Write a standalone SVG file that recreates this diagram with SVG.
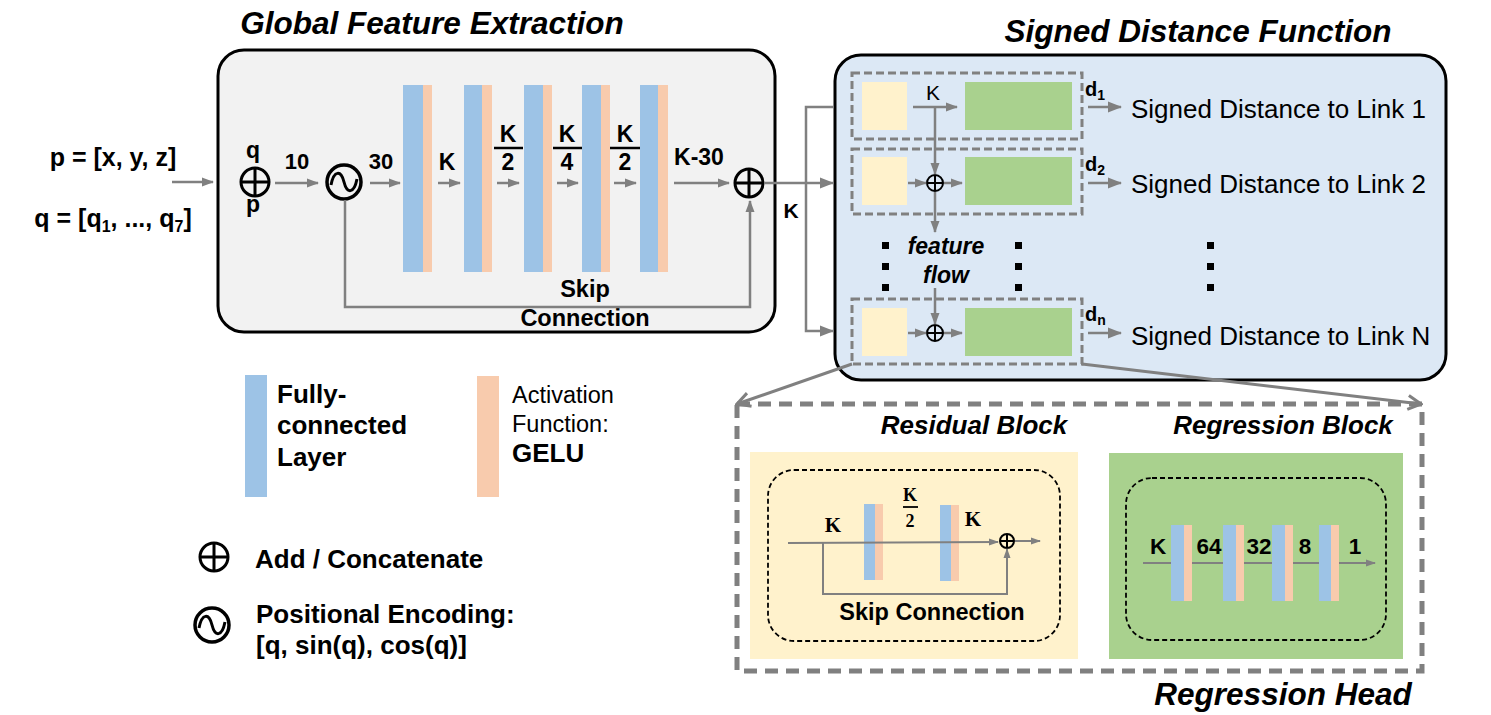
<svg xmlns="http://www.w3.org/2000/svg" width="1491" height="715" viewBox="0 0 1491 715">
<defs>
<style>
.b{font-family:"Liberation Sans",Arial,sans-serif;font-weight:bold;fill:#000}
.r{font-family:"Liberation Sans",Arial,sans-serif;fill:#000}
.bi{font-family:"Liberation Sans",Arial,sans-serif;font-weight:bold;font-style:italic;fill:#000}
.sf{font-family:"Liberation Serif","Times New Roman",serif;font-weight:bold;fill:#000}
.fc{fill:#9dc3e6}
.ac{fill:#f8cbad}
.ln{fill:none;stroke:#808080;stroke-width:2.5}
.lnt{fill:none;stroke:#808080;stroke-width:2}
.ds{fill:none;stroke:#808080;stroke-width:3;stroke-dasharray:8 4}
.dot{fill:#000}
</style>
<marker id="ah" markerUnits="userSpaceOnUse" markerWidth="12" markerHeight="10" refX="11" refY="5" orient="auto"><path d="M0,0.5 L12,5 L0,9.5 z" fill="#808080"/></marker>
<marker id="ahs" markerUnits="userSpaceOnUse" markerWidth="10" markerHeight="8" refX="9" refY="4" orient="auto"><path d="M0,0.5 L10,4 L0,7.5 z" fill="#808080"/></marker>
<marker id="ahl" markerUnits="userSpaceOnUse" markerWidth="14" markerHeight="12" refX="13" refY="6" orient="auto"><path d="M0,0.5 L14,6 L0,11.5 z" fill="#808080"/></marker>
<marker id="aho" markerUnits="userSpaceOnUse" markerWidth="18" markerHeight="18" refX="16" refY="9" orient="auto"><path d="M3,2 L16,9 L3,16" fill="none" stroke="#808080" stroke-width="3"/></marker>
<g id="oplus"><circle r="14" fill="none" stroke="#000" stroke-width="3"/><path d="M-14,0 H14 M0,-14 V14" stroke="#000" stroke-width="3"/></g>
<g id="oplusS"><circle r="8" fill="none" stroke="#000" stroke-width="2"/><path d="M-8,0 H8 M0,-8 V8" stroke="#000" stroke-width="2"/></g>
<g id="pe"><circle r="17" fill="none" stroke="#000" stroke-width="3.5"/><path d="M-13,3 C-10,-12 -3,-12 0,0 C3,12 10,12 13,-3" fill="none" stroke="#000" stroke-width="3"/></g>
</defs>

<!-- Titles -->
<text class="bi" x="432" y="34" font-size="31.5" text-anchor="middle">Global Feature Extraction</text>
<text class="bi" x="1198" y="42" font-size="31.5" text-anchor="middle">Signed Distance Function</text>
<text class="bi" x="1283" y="705" font-size="31.5" text-anchor="middle">Regression Head</text>

<!-- Inputs -->
<g id="inputs">
<text class="b" x="113" y="166" font-size="25" text-anchor="middle">p = [x, y, z]</text>
<text class="b" x="113" y="227" font-size="25" text-anchor="middle">q = [q<tspan font-size="16" dy="5">1</tspan><tspan dy="-5">, ..., q</tspan><tspan font-size="16" dy="5">7</tspan><tspan dy="-5">]</tspan></text>
</g>

<!-- Global feature extraction -->
<g id="gfe">
<rect x="218" y="50" width="557" height="282" rx="26" fill="#f2f2f2" stroke="#000" stroke-width="3"/>
<use href="#oplus" x="255" y="182"/>
<text class="b" x="253" y="158" font-size="23" text-anchor="middle">q</text>
<text class="b" x="253" y="212" font-size="23" text-anchor="middle">p</text>
<text class="b" x="297" y="169" font-size="22" text-anchor="middle">10</text>
<use href="#pe" x="344" y="182"/>
<text class="b" x="381" y="169" font-size="22" text-anchor="middle">30</text>
<rect class="fc" x="403" y="85" width="20" height="187"/><rect class="ac" x="423" y="85" width="9" height="187"/>
<rect class="fc" x="464" y="85" width="18" height="187"/><rect class="ac" x="482" y="85" width="10" height="187"/>
<rect class="fc" x="524" y="85" width="19" height="187"/><rect class="ac" x="543" y="85" width="9" height="187"/>
<rect class="fc" x="582" y="85" width="19" height="187"/><rect class="ac" x="601" y="85" width="9" height="187"/>
<rect class="fc" x="640" y="85" width="18" height="187"/><rect class="ac" x="658" y="85" width="10" height="187"/>
<text class="b" x="447" y="170" font-size="23" text-anchor="middle">K</text>
<text class="b" x="508" y="142" font-size="23" text-anchor="middle">K</text>
<line x1="494" y1="148" x2="523" y2="148" stroke="#000" stroke-width="2.5"/>
<text class="b" x="508" y="170" font-size="23" text-anchor="middle">2</text>
<text class="b" x="567" y="142" font-size="23" text-anchor="middle">K</text>
<line x1="553" y1="148" x2="582" y2="148" stroke="#000" stroke-width="2.5"/>
<text class="b" x="567" y="170" font-size="23" text-anchor="middle">4</text>
<text class="b" x="625" y="142" font-size="23" text-anchor="middle">K</text>
<line x1="610" y1="148" x2="640" y2="148" stroke="#000" stroke-width="2.5"/>
<text class="b" x="625" y="170" font-size="23" text-anchor="middle">2</text>
<text class="b" x="699" y="165" font-size="23" text-anchor="middle">K-30</text>
<use href="#oplus" x="749" y="183"/>
<text class="b" x="585" y="297" font-size="23.5" text-anchor="middle">Skip</text>
<text class="b" x="585" y="326" font-size="23.5" text-anchor="middle">Connection</text>
</g>

<!-- Signed distance function -->
<g id="sdf">
<rect x="835" y="55" width="611" height="325" rx="26" fill="#dce8f5" stroke="#000" stroke-width="3"/>
<rect class="ds" x="852" y="73" width="230" height="66"/>
<rect class="ds" x="852" y="149" width="230" height="65"/>
<rect class="ds" x="852" y="299" width="230" height="65"/>
<rect x="862" y="82" width="45" height="48" fill="#fff2cc"/><rect x="965" y="82" width="107" height="48" fill="#a9d18e"/>
<rect x="862" y="157" width="45" height="48" fill="#fff2cc"/><rect x="965" y="157" width="107" height="48" fill="#a9d18e"/>
<rect x="862" y="308" width="45" height="48" fill="#fff2cc"/><rect x="965" y="308" width="107" height="48" fill="#a9d18e"/>
<text class="r" x="933" y="100" font-size="21" text-anchor="middle">K</text>
<use href="#oplusS" x="935" y="183"/>
<use href="#oplusS" x="935" y="333"/>
<text class="bi" x="946" y="254" font-size="23" text-anchor="middle">feature</text>
<text class="bi" x="946" y="283" font-size="23" text-anchor="middle">flow</text>
<rect class="dot" x="882" y="242" width="7" height="7"/><rect class="dot" x="882" y="263" width="7" height="7"/><rect class="dot" x="882" y="284" width="7" height="7"/>
<rect class="dot" x="1015" y="242" width="7" height="7"/><rect class="dot" x="1015" y="263" width="7" height="7"/><rect class="dot" x="1015" y="284" width="7" height="7"/>
<rect class="dot" x="1207" y="242" width="7" height="7"/><rect class="dot" x="1207" y="263" width="7" height="7"/><rect class="dot" x="1207" y="284" width="7" height="7"/>
<text class="b" x="1085" y="96" font-size="20">d<tspan font-size="14" dy="4">1</tspan></text>
<text class="b" x="1085" y="171" font-size="20">d<tspan font-size="14" dy="4">2</tspan></text>
<text class="b" x="1085" y="321" font-size="20">d<tspan font-size="14" dy="4">n</tspan></text>
<text class="r" x="1131" y="118" font-size="26">Signed Distance to Link 1</text>
<text class="r" x="1131" y="193" font-size="26">Signed Distance to Link 2</text>
<text class="r" x="1131" y="345" font-size="26">Signed Distance to Link N</text>
</g>

<!-- Regression head -->
<g id="regression-head">
<rect x="737" y="404" width="685" height="267" fill="none" stroke="#808080" stroke-width="5" stroke-dasharray="13 8"/>
<text class="bi" x="974" y="434" font-size="26" text-anchor="middle">Residual Block</text>
<text class="bi" x="1283" y="434" font-size="26" text-anchor="middle">Regression Block</text>
</g>

<g id="residual-block">
<rect x="750" y="452" width="328" height="207" fill="#fff2cc"/>
<rect x="768" y="470" width="292" height="171" rx="26" fill="none" stroke="#000" stroke-width="1.8" stroke-dasharray="5 3"/>
<rect class="fc" x="864" y="504" width="11" height="76"/><rect class="ac" x="875" y="504" width="8" height="76"/>
<rect class="fc" x="940" y="505" width="11" height="76"/><rect class="ac" x="951" y="505" width="8" height="76"/>
<text class="sf" x="833" y="532" font-size="21" text-anchor="middle">K</text>
<text class="sf" x="910" y="501" font-size="18" text-anchor="middle">K</text>
<line x1="903" y1="507" x2="918" y2="507" stroke="#000" stroke-width="1.8"/>
<text class="sf" x="910" y="527" font-size="18" text-anchor="middle">2</text>
<text class="sf" x="973" y="526" font-size="21" text-anchor="middle">K</text>
<g transform="translate(1007,541)"><circle r="7" fill="none" stroke="#000" stroke-width="2"/><path d="M-7,0 H7 M0,-7 V7" stroke="#000" stroke-width="2"/></g>
<text class="b" x="932" y="620" font-size="23.5" text-anchor="middle">Skip Connection</text>
</g>

<g id="regression-block">
<rect x="1109" y="453" width="294" height="206" fill="#a9d18e"/>
<rect x="1126" y="478" width="260" height="162" rx="26" fill="none" stroke="#000" stroke-width="1.8" stroke-dasharray="5 3"/>
<line x1="1143" y1="563" x2="1375" y2="563" class="lnt" marker-end="url(#ahs)"/>
<rect class="fc" x="1171" y="525" width="13" height="76"/><rect class="ac" x="1184" y="525" width="8" height="76"/>
<rect class="fc" x="1223" y="525" width="13" height="76"/><rect class="ac" x="1236" y="525" width="8" height="76"/>
<rect class="fc" x="1272" y="525" width="13" height="76"/><rect class="ac" x="1285" y="525" width="8" height="76"/>
<rect class="fc" x="1319" y="525" width="12" height="76"/><rect class="ac" x="1331" y="525" width="8" height="76"/>
<text class="b" x="1158" y="554" font-size="22.5" text-anchor="middle">K</text>
<text class="b" x="1209" y="554" font-size="22.5" text-anchor="middle">64</text>
<text class="b" x="1259" y="554" font-size="22.5" text-anchor="middle">32</text>
<text class="b" x="1305" y="554" font-size="22.5" text-anchor="middle">8</text>
<text class="b" x="1355" y="554" font-size="22.5" text-anchor="middle">1</text>
</g>

<!-- Legend -->
<g id="legend">
<rect class="fc" x="245" y="375" width="22" height="122"/>
<text class="b" x="277" y="403" font-size="26">Fully-</text>
<text class="b" x="277" y="434" font-size="26">connected</text>
<text class="b" x="277" y="466" font-size="26">Layer</text>
<rect class="ac" x="477" y="376" width="22" height="121"/>
<text class="r" x="512" y="403" font-size="23.5">Activation</text>
<text class="r" x="512" y="432" font-size="23.5">Function:</text>
<text class="b" x="512" y="462" font-size="26">GELU</text>
<use href="#oplus" x="214" y="557"/>
<text class="b" x="255" y="568" font-size="26">Add / Concatenate</text>
<use href="#pe" x="212" y="625"/>
<text class="b" x="256" y="623" font-size="26">Positional Encoding:</text>
<text class="b" x="256" y="654" font-size="26">[q, sin(q), cos(q)]</text>
</g>

<!-- Connectors -->
<g id="connectors">
<line class="ln" x1="172" y1="182" x2="213" y2="182" marker-end="url(#ah)"/>
<line class="ln" x1="275" y1="183" x2="318" y2="183" marker-end="url(#ah)"/>
<line class="ln" x1="370" y1="183" x2="400" y2="183" marker-end="url(#ah)"/>
<line class="ln" x1="438" y1="183" x2="460" y2="183" marker-end="url(#ah)"/>
<line class="ln" x1="497" y1="183" x2="519" y2="183" marker-end="url(#ah)"/>
<line class="ln" x1="557" y1="183" x2="578" y2="183" marker-end="url(#ah)"/>
<line class="ln" x1="614" y1="183" x2="636" y2="183" marker-end="url(#ah)"/>
<line class="ln" x1="674" y1="183" x2="729" y2="183" marker-end="url(#ah)"/>
<polyline class="ln" points="345,200 345,307 750,307 750,201" marker-end="url(#ah)"/>
<line class="ln" x1="764" y1="183" x2="806" y2="183"/>
<polyline class="ln" points="833,107 806,107 806,331 833,331" marker-end="url(#ahl)"/>
<line class="ln" x1="806" y1="183" x2="833" y2="183" marker-end="url(#ahl)"/>
<text class="b" x="791" y="218" font-size="21" text-anchor="middle">K</text>
<line class="ln" x1="913" y1="107" x2="957" y2="107" marker-end="url(#ah)"/>
<line class="ln" x1="935" y1="107" x2="935" y2="174" marker-end="url(#ah)"/>
<line class="ln" x1="908" y1="183" x2="926" y2="183" marker-end="url(#ah)"/>
<line class="ln" x1="944" y1="183" x2="962" y2="183" marker-end="url(#ah)"/>
<line class="ln" x1="935" y1="192" x2="935" y2="232" marker-end="url(#ah)"/>
<line class="ln" x1="935" y1="288" x2="935" y2="324" marker-end="url(#ah)"/>
<line class="ln" x1="908" y1="333" x2="926" y2="333" marker-end="url(#ah)"/>
<line class="ln" x1="944" y1="333" x2="962" y2="333" marker-end="url(#ah)"/>
<line class="ln" x1="1088" y1="107" x2="1121" y2="107" marker-end="url(#ahl)"/>
<line class="ln" x1="1088" y1="183" x2="1121" y2="183" marker-end="url(#ahl)"/>
<line class="ln" x1="1088" y1="333" x2="1121" y2="333" marker-end="url(#ahl)"/>
<line x1="852" y1="364" x2="737" y2="404" stroke="#808080" stroke-width="3" marker-end="url(#aho)"/>
<line x1="1082" y1="364" x2="1421" y2="404" stroke="#808080" stroke-width="3" marker-end="url(#aho)"/>
<line class="lnt" x1="788" y1="543" x2="998" y2="542" marker-end="url(#ahs)"/>
<line class="lnt" x1="1015" y1="541" x2="1040" y2="541" marker-end="url(#ahs)"/>
<polyline class="lnt" points="823,543 823,594 1007,594 1007,549" marker-end="url(#ahs)"/>
</g>
</svg>
